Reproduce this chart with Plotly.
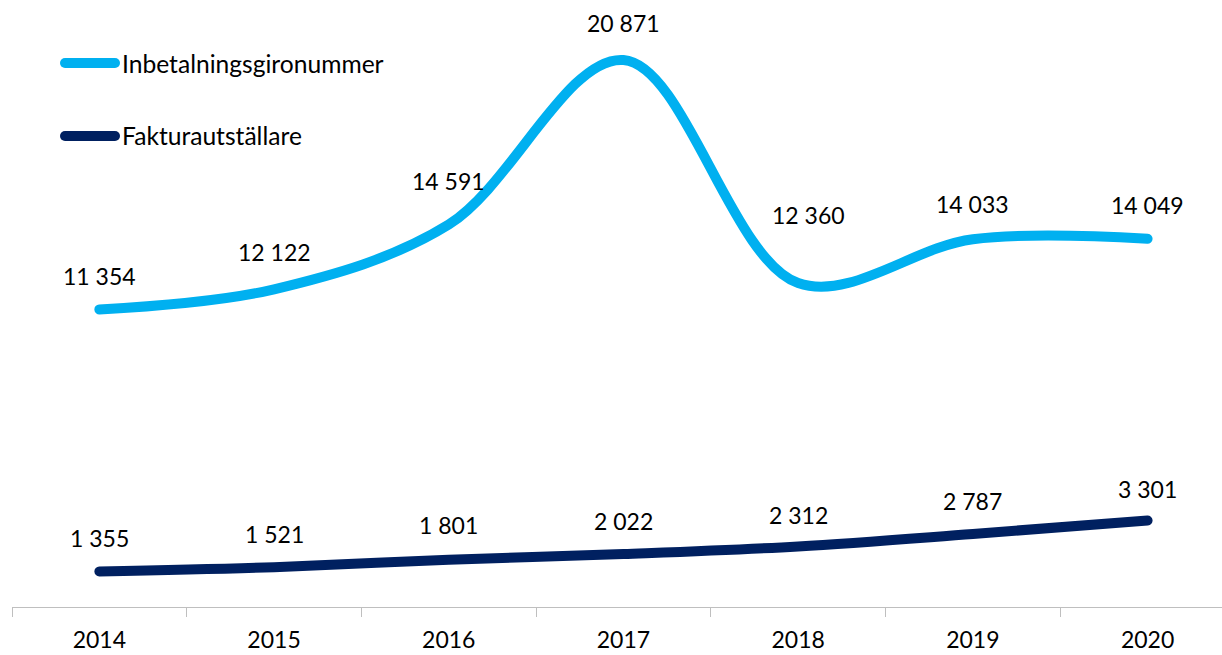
import plotly.graph_objects as go

years = ["2014", "2015", "2016", "2017", "2018", "2019", "2020"]
inbetalning = [11354, 12122, 14591, 20871, 12360, 14033, 14049]
faktura = [1355, 1521, 1801, 2022, 2312, 2787, 3301]
series_names = ["Inbetalningsgironummer", "Fakturautställare"]
colors = ["#00B0F0", "#002060"]


def fmt(v):
    return f"{v:,}".replace(",", " ")


FONT = "Lato"
W, H = 1222, 655
ML, MR, MT, MB = 12, 0, 0, 48
PW, PH = W - ML - MR, H - MT - MB

fig = go.Figure()
for name, vals, col in zip(series_names, [inbetalning, faktura], colors):
    fig.add_trace(go.Scatter(
        x=years, y=vals, mode="lines", name=name,
        line=dict(color=col, width=10, shape="spline", smoothing=1.0),
        hoverinfo="x+y", showlegend=False,
    ))

annotations = []
# label offsets (pixels) for each series
offs1 = [(0, 33), (0, 37), (0, 44), (0, 37), (10, 68), (0, 35), (0, 34)]
offs2 = [(0, 33), (0, 33), (0, 35), (0, 33), (0, 31), (0, 33), (0, 31)]
for vals, offs in [(inbetalning, offs1), (faktura, offs2)]:
    for i, (v, (dx, dy)) in enumerate(zip(vals, offs)):
        annotations.append(dict(
            x=i, y=v, xref="x", yref="y", text=fmt(v), showarrow=False,
            xshift=dx, yshift=dy, xanchor="center", yanchor="middle",
            font=dict(family=FONT, size=23, color="#000000"),
        ))

# manual legend
legend_y = [63, 136]
shapes = []
for name, col, ly in zip(series_names, colors, legend_y):
    yp = 1 - (ly - MT) / PH
    shapes.append(dict(
        type="line", xref="paper", yref="paper",
        x0=(65 - ML) / PW, x1=(115 - ML) / PW, y0=yp, y1=yp,
        line=dict(color=col, width=10),
    ))
    annotations.append(dict(
        x=(120 - ML) / PW, y=yp, xref="paper", yref="paper", text=name,
        showarrow=False, xanchor="left", yanchor="middle",
        font=dict(family=FONT, size=24.6, color="#000000"),
    ))

fig.update_layout(
    width=W, height=H,
    margin=dict(l=ML, r=MR, t=MT, b=MB),
    paper_bgcolor="white", plot_bgcolor="white",
    annotations=annotations, shapes=shapes,
    xaxis=dict(
        type="category", categoryorder="array", categoryarray=years,
        range=[-0.5, 6.426], tickson="boundaries",
        ticks="outside", ticklen=9, tickcolor="#BFBFBF", tickwidth=1,
        showline=True, linecolor="#BFBFBF", linewidth=1,
        showgrid=False, zeroline=False, ticklabelstandoff=12,
        tickfont=dict(family=FONT, size=23, color="#000000"),
    ),
    yaxis=dict(visible=False, range=[0, 23160], fixedrange=True),
)

fig.write_html(
    "out.html",
    config={"displayModeBar": False},
    post_script=(
        "document.body.style.margin='0';document.body.style.overflow='hidden';"
        "document.querySelectorAll('.js-line, .shapelayer path')"
        ".forEach(function(e){e.style.strokeLinecap='round';e.style.strokeLinejoin='round';});"
    ),
)
